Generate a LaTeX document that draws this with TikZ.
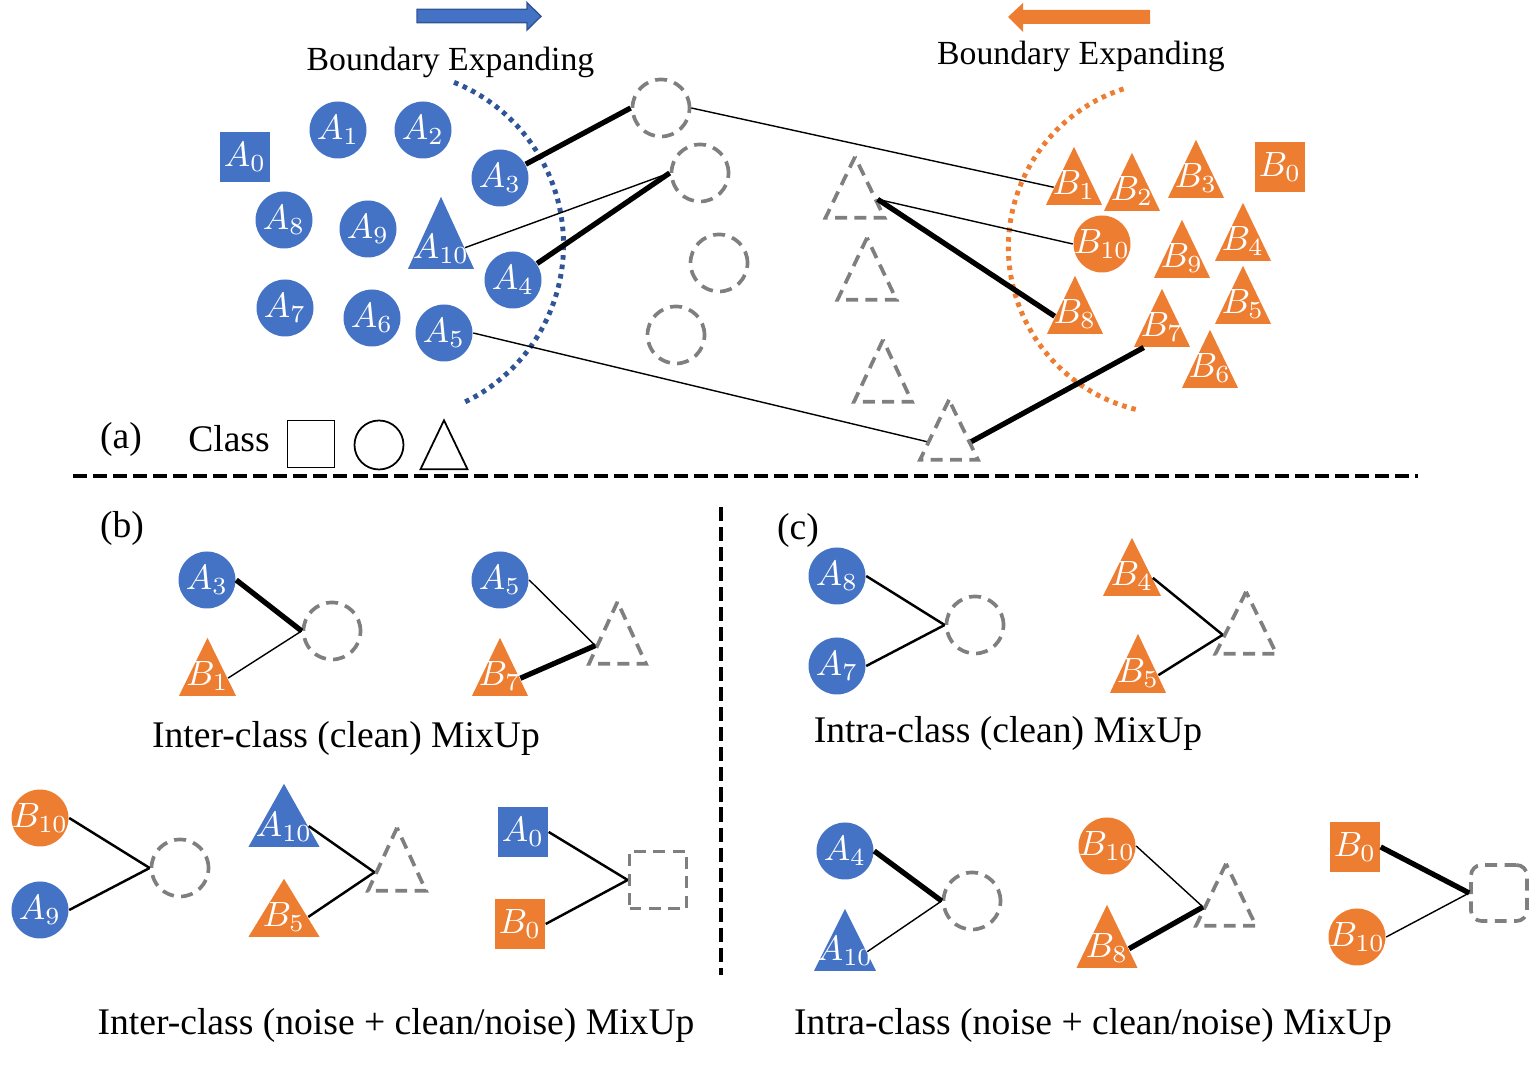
\documentclass[tikz,border=0pt]{standalone}
\usepackage{fontspec}
\setmainfont{Liberation Serif}
\usetikzlibrary{shapes.geometric}
\definecolor{ablue}{HTML}{4472C4}
\definecolor{bora}{HTML}{ED7D31}
\definecolor{mixgray}{HTML}{7F7F7F}
\definecolor{edgeblue}{HTML}{2F5597}
\newcommand{\lblfont}{\fontsize{9.7}{11}\selectfont}
\newcommand{\capfont}{\fontsize{10.7}{13}\selectfont}
\tikzset{
  ball/.style={circle, inner sep=-2pt, minimum size=#1},
  ball/.default=0.57cm,
  box/.style={rectangle, inner sep=0pt, minimum size=#1},
  box/.default=0.5cm,
  tri/.style 2 args={isosceles triangle, isosceles triangle stretches, shape border rotate=90,
    inner sep=0pt, minimum width=#1, minimum height=#2, anchor=apex},
  ca/.style={fill=ablue, text=white, font=\lblfont},
  cb/.style={fill=bora, text=white, font=\lblfont},
  mix/.style={draw=mixgray, line width=1.05pt, dash pattern=on 3.4pt off 2.1pt},
  lbl/.style={text=white, font=\lblfont, inner sep=0pt, anchor=south, yshift=1.5pt},
  captxt/.style={font=\capfont, anchor=base},
  thinlink/.style={line width=0.4pt},
  link/.style={line width=0.7pt},
  thicklink/.style={line width=1.5pt},
  bound/.style={line width=1.4pt, dash pattern=on 1.3pt off 1.4pt},
  split/.style={line width=1.1pt, dash pattern=on 4pt off 1.7pt},
}
\begin{document}
\begin{tikzpicture}
	\useasboundingbox (0,0) rectangle (15.29,-10.66);
	% (a) expanding arrows and boundaries
	\filldraw[fill=ablue, draw=edgeblue, line width=0.4pt] (4.17,-0.093) -- (5.27,-0.093) -- (5.27,-0.027) -- (5.41,-0.163) -- (5.27,-0.30) -- (5.27,-0.227) -- (4.17,-0.227) -- cycle;
	\fill[bora] (10.08,-0.17) -- (10.23,-0.03) -- (10.23,-0.10) -- (11.50,-0.10) -- (11.50,-0.24) -- (10.23,-0.24) -- (10.23,-0.32) -- cycle;
	\node[font=\fontsize{9.6}{12}\selectfont, anchor=base] (expl) at (4.505,-0.71) {Boundary Expanding};
	\node[font=\fontsize{9.6}{12}\selectfont, anchor=base] (expr) at (10.81,-0.65) {Boundary Expanding};
	\draw[edgeblue, bound] (3.885,-2.446) ++(68:1.75) arc[start angle=68, end angle=-64, radius=1.75];
	\draw[bora, bound] (11.751,-2.474) ++(108:1.667) arc[start angle=108, end angle=257, radius=1.667];
	% class A samples
	\node[box, ca] (a0) at (2.45,-1.57) {$A_0$};
	\node[ball, ca] (a1) at (3.38,-1.30) {$A_1$};
	\node[ball, ca] (a2) at (4.23,-1.30) {$A_2$};
	\node[ball, ca] (a3) at (5.00,-1.78) {$A_3$};
	\node[ball, ca] (a8) at (2.84,-2.20) {$A_8$};
	\node[ball, ca] (a9) at (3.68,-2.29) {$A_9$};
	\node[tri={0.66cm}{0.72cm}, ca, label={[lbl]south:$A_{10}$}] (a10) at (4.41,-1.95) {};
	\node[ball, ca] (a4) at (5.13,-2.80) {$A_4$};
	\node[ball, ca] (a7) at (2.85,-3.08) {$A_7$};
	\node[ball, ca] (a6) at (3.72,-3.18) {$A_6$};
	\node[ball, ca] (a5) at (4.44,-3.33) {$A_5$};
	% mixed samples
	\node[ball, mix] (g1) at (6.61,-1.08) {};
	\node[ball, mix] (g2) at (7.00,-1.73) {};
	\node[ball, mix] (g3) at (7.19,-2.63) {};
	\node[ball, mix] (g4) at (6.76,-3.35) {};
	\node[tri={0.59cm}{0.61cm}, mix] (t1) at (8.55,-1.52) {};
	\node[tri={0.59cm}{0.62cm}, mix] (t2) at (8.67,-2.33) {};
	\node[tri={0.58cm}{0.62cm}, mix] (t3) at (8.83,-3.35) {};
	\node[tri={0.58cm}{0.60cm}, mix] (t4) at (9.49,-3.95) {};
	% class B samples
	\node[tri={0.56cm}{0.58cm}, cb, label={[lbl]south:$B_1$}] (b1) at (10.74,-1.45) {};
	\node[tri={0.56cm}{0.58cm}, cb, label={[lbl]south:$B_2$}] (b2) at (11.32,-1.51) {};
	\node[tri={0.56cm}{0.58cm}, cb, label={[lbl]south:$B_3$}] (b3) at (11.96,-1.38) {};
	\node[box, cb] (b0) at (12.80,-1.67) {$B_0$};
	\node[ball, cb] (b10) at (11.02,-2.44) {$B_{10}$};
	\node[tri={0.56cm}{0.58cm}, cb, label={[lbl]south:$B_9$}] (b9) at (11.82,-2.18) {};
	\node[tri={0.56cm}{0.58cm}, cb, label={[lbl]south:$B_4$}] (b4) at (12.43,-2.01) {};
	\node[tri={0.56cm}{0.58cm}, cb, label={[lbl]south:$B_8$}] (b8) at (10.75,-2.74) {};
	\node[tri={0.56cm}{0.58cm}, cb, label={[lbl]south:$B_5$}] (b5) at (12.43,-2.64) {};
	\node[tri={0.56cm}{0.58cm}, cb, label={[lbl]south:$B_7$}] (b7) at (11.62,-2.87) {};
	\node[tri={0.56cm}{0.58cm}, cb, label={[lbl]south:$B_6$}] (b6) at (12.10,-3.28) {};
	% mixing pairs
	\draw[thicklink] (a3) -- (g1.west);
	\draw[thinlink] (a10.east) -- (g2.west);
	\draw[thicklink] (a4) -- (g2.west);
	\draw[thinlink] (a5.east) -- (t4.west);
	\draw[thinlink] (g1.east) -- (b1.west);
	\draw[thinlink] (t1.east) -- (b10.west);
	\draw[thicklink] (t1.east) -- (b8.west);
	\draw[thicklink] (t4.east) -- (b7.south west);
	% legend
	\node[captxt] (tag a) at (1.21,-4.49) {(a)};
	\node[captxt] (cls) at (2.29,-4.52) {Class};
	\node[box=0.47cm, draw, line width=0.5pt] (lsq) at (3.11,-4.44) {};
	\node[ball=0.49cm, draw, line width=0.5pt] (lci) at (3.79,-4.45) {};
	\node[tri={0.47cm}{0.49cm}, draw, line width=0.5pt] (ltr) at (4.44,-4.18) {};
	% panel borders
	\draw[split] (0.73,-4.76) -- (14.18,-4.76);
	\draw[split] (7.21,-5.07) -- (7.21,-9.75);
	% (b) inter-class clean
	\node[captxt] (tag b) at (1.22,-5.38) {(b)};
	\node[ball, ca] (a3b) at (2.07,-5.80) {$A_3$};
	\node[tri={0.57cm}{0.58cm}, cb, label={[lbl]south:$B_1$}] (b1b) at (2.075,-6.36) {};
	\node[ball, mix] (gb1) at (3.32,-6.31) {};
	\draw[thicklink] (a3b.east) -- (gb1.west);
	\draw[thinlink] (b1b.east) -- (gb1.west);
	\node[ball, ca] (a5b) at (5.00,-5.80) {$A_5$};
	\node[tri={0.56cm}{0.58cm}, cb, label={[lbl]south:$B_7$}] (b7b) at (5.00,-6.36) {};
	\node[tri={0.57cm}{0.62cm}, mix] (tb1) at (6.175,-5.97) {};
	\draw[thinlink] (a5b.east) -- (tb1.west);
	\draw[thicklink] (b7b.east) -- (tb1.west);
	\node[captxt] (cap b1) at (3.46,-7.48) {Inter-class (clean) MixUp};
	% (c) intra-class clean
	\node[captxt] (tag c) at (7.98,-5.40) {(c)};
	\node[ball, ca] (a8c) at (8.37,-5.76) {$A_8$};
	\node[ball, ca] (a7c) at (8.37,-6.66) {$A_7$};
	\node[ball, mix] (gc1) at (9.75,-6.25) {};
	\draw[link] (a8c.east) -- (gc1.west);
	\draw[link] (a7c.east) -- (gc1.west);
	\node[tri={0.58cm}{0.58cm}, cb, label={[lbl]south:$B_4$}] (b4c) at (11.32,-5.36) {};
	\node[tri={0.56cm}{0.59cm}, cb, label={[lbl]south:$B_5$}] (b5c) at (11.38,-6.32) {};
	\node[tri={0.61cm}{0.62cm}, mix] (tc1) at (12.46,-5.87) {};
	\draw[link] (b4c.east) -- (tc1.west);
	\draw[link] (b5c.east) -- (tc1.west);
	\node[captxt] (cap c1) at (10.08,-7.43) {Intra-class (clean) MixUp};
	% (b) inter-class noisy
	\node[ball, cb] (b10b) at (0.40,-8.18) {$B_{10}$};
	\node[ball, ca] (a9b) at (0.40,-9.10) {$A_9$};
	\node[ball, mix] (gb2) at (1.80,-8.68) {};
	\draw[link] (b10b.east) -- (gb2.west);
	\draw[link] (a9b.east) -- (gb2.west);
	\node[tri={0.71cm}{0.63cm}, ca, label={[lbl]south:$A_{10}$}] (a10b) at (2.84,-7.82) {};
	\node[tri={0.71cm}{0.58cm}, cb, label={[lbl]south:$B_5$}] (b5b) at (2.84,-8.77) {};
	\node[tri={0.58cm}{0.63cm}, mix] (tb2) at (3.97,-8.23) {};
	\draw[link] (a10b.east) -- (tb2.west);
	\draw[link] (b5b.east) -- (tb2.west);
	\node[box, ca] (a0b) at (5.23,-8.32) {$A_0$};
	\node[box, cb] (b0b) at (5.20,-9.24) {$B_0$};
	\node[box=0.57cm, mix] (sb2) at (6.58,-8.80) {};
	\draw[link] (a0b.east) -- (sb2.west);
	\draw[link] (b0b.east) -- (sb2.west);
	\node[captxt] (cap b2) at (3.96,-10.35) {Inter-class (noise + clean/noise) MixUp};
	% (c) intra-class noisy
	\node[ball, ca] (a4c) at (8.45,-8.51) {$A_4$};
	\node[tri={0.62cm}{0.62cm}, ca, label={[lbl]south:$A_{10}$}] (a10c) at (8.45,-9.07) {};
	\node[ball, mix] (gc2) at (9.72,-9.01) {};
	\draw[thicklink] (a4c.east) -- (gc2.west);
	\draw[thinlink] (a10c.east) -- (gc2.west);
	\node[ball, cb] (b10c) at (11.07,-8.46) {$B_{10}$};
	\node[tri={0.61cm}{0.63cm}, cb, label={[lbl]south:$B_8$}] (b8c) at (11.07,-9.03) {};
	\node[tri={0.60cm}{0.62cm}, mix] (tc2) at (12.26,-8.59) {};
	\draw[thinlink] (b10c.east) -- (tc2.west);
	\draw[thicklink] (b8c.east) -- (tc2.west);
	\node[box, cb] (b0c) at (13.55,-8.47) {$B_0$};
	\node[ball, cb] (b10d) at (13.57,-9.37) {$B_{10}$};
	\node[box=0.56cm, mix, rounded corners=3pt] (sc2) at (14.99,-8.93) {};
	\draw[thicklink] (b0c.east) -- (sc2.west);
	\draw[thinlink] (b10d.east) -- (sc2.west);
	\node[captxt] (cap c2) at (10.93,-10.35) {Intra-class (noise + clean/noise) MixUp};
\end{tikzpicture}
\end{document}
